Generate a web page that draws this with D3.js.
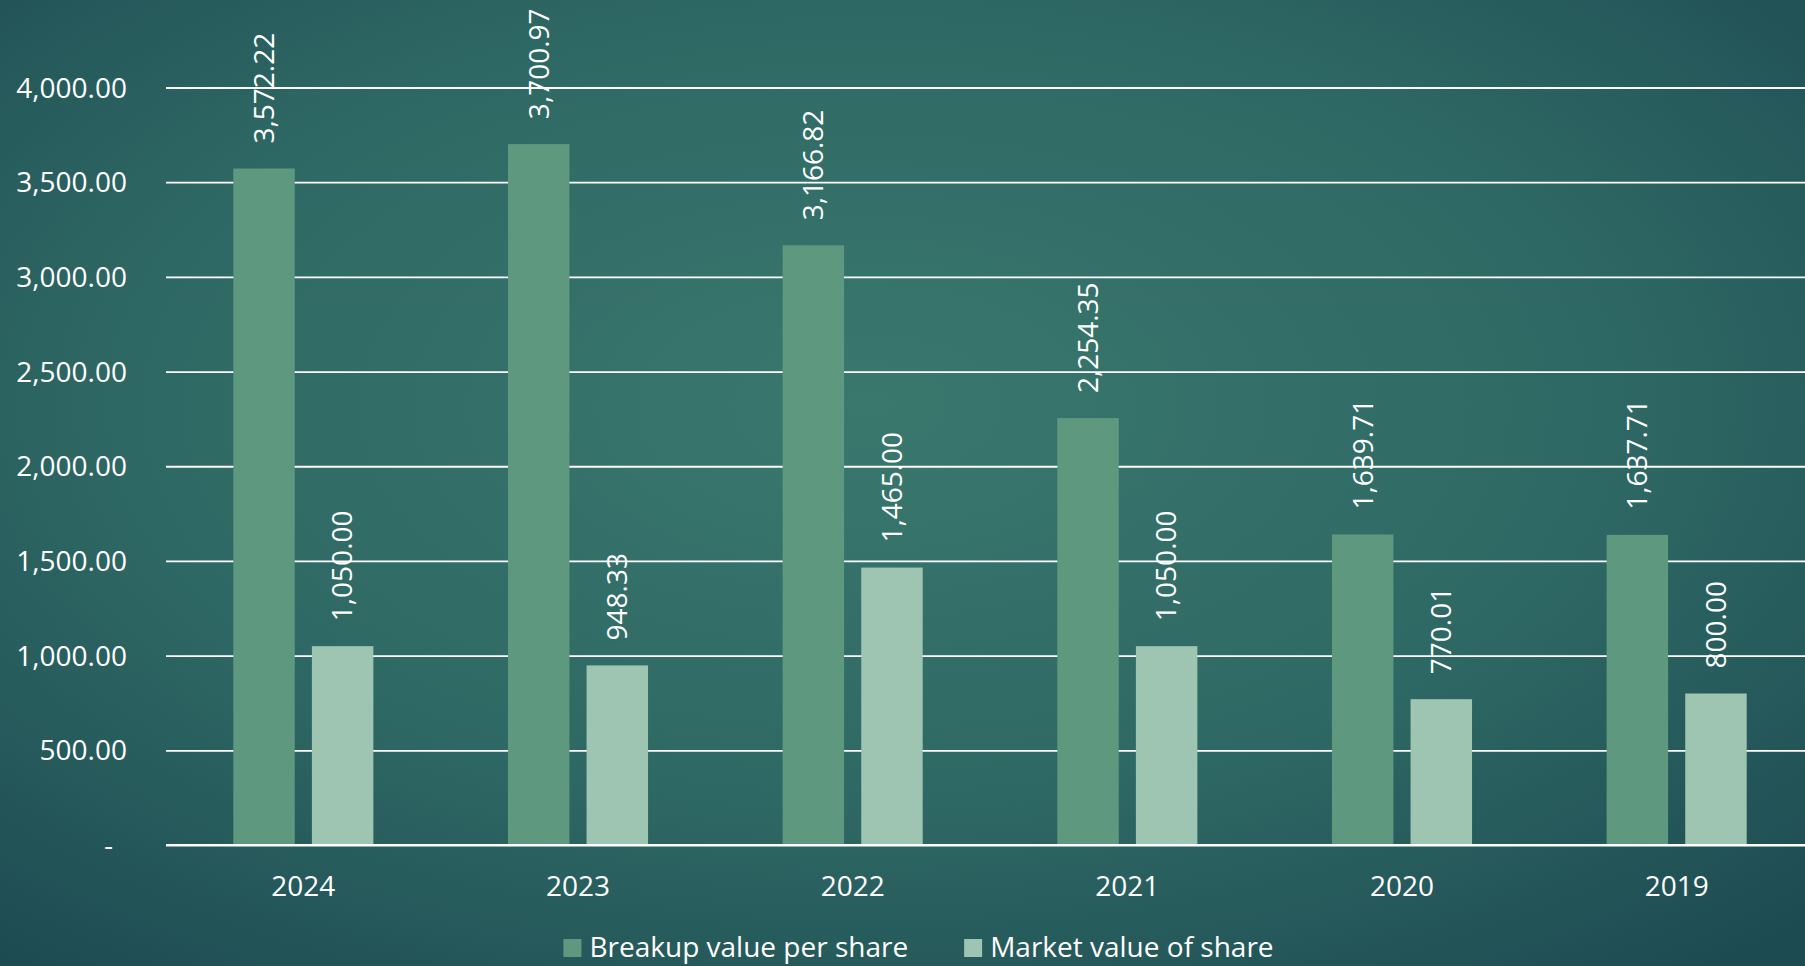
<!DOCTYPE html>
<html>
<head>
<meta charset="utf-8">
<script src="https://cdn.jsdelivr.net/npm/d3@7"></script>
<style>
    html, body { margin: 0; padding: 0; background: #2a6262; }
    svg { display: block; }
    text { font-family: "Open Sans", "Noto Sans", sans-serif; fill: #ffffff; }
</style>
</head>
<body>
<svg id="chart"></svg>
<script>
// chart data
const years = ['2024', '2023', '2022', '2021', '2020', '2019'];
const seriesNames = ['Breakup value per share', 'Market value of share'];
const breakupValues = [3572.22, 3700.97, 3166.82, 2254.35, 1639.71, 1637.71];
const marketValues = [1050.00, 948.33, 1465.00, 1050.00, 770.01, 800.00];
const yTicks = [0, 500, 1000, 1500, 2000, 2500, 3000, 3500, 4000];

const width = 1805;
const height = 966;
const colors = ['#5e997f', '#9ec4b2'];

const svg = d3.select('#chart')
    .attr('width', width)
    .attr('height', height)
    .attr('viewBox', `0 0 ${width} ${height}`);

// background: soft radial teal glow, darker toward the corners
const defs = svg.append('defs');
const grad = defs.append('radialGradient')
    .attr('id', 'bg')
    .attr('cx', '48%').attr('cy', '42%').attr('r', '75%');
grad.append('stop').attr('offset', '0%').attr('stop-color', '#3a786e');
grad.append('stop').attr('offset', '55%').attr('stop-color', '#2e6864');
grad.append('stop').attr('offset', '100%').attr('stop-color', '#1d4b52');
svg.append('rect')
    .attr('width', width).attr('height', height)
    .attr('fill', 'url(#bg)');

const plot = { left: 166, right: 1814, top: 87.5, bottom: 845 };

const x0 = d3.scaleBand()
    .domain(years)
    .range([plot.left, plot.right])
    .paddingInner(0.49)
    .paddingOuter(0.245);

const x1 = d3.scaleBand()
    .domain(seriesNames)
    .range([0, x0.bandwidth()])
    .paddingInner(0.218)
    .paddingOuter(0);

const y = d3.scaleLinear()
    .domain([0, 4000])
    .range([plot.bottom, plot.top]);

const color = d3.scaleOrdinal().domain(seriesNames).range(colors);

const valueFormat = d3.format(',.2f');

// gridlines + y labels
const yAxis = d3.axisLeft(y)
    .tickValues(yTicks)
    .tickSize(-(plot.right - plot.left))
    .tickPadding(39)
    .tickFormat(v => v === 0 ? '-' : valueFormat(v));

const yAxisGroup = svg.append('g')
    .attr('class', 'y-axis')
    .attr('transform', `translate(${plot.left},0)`)
    .call(yAxis);

yAxisGroup.select('.domain').remove();
yAxisGroup.selectAll('.tick line')
    .attr('stroke', '#ffffff')
    .attr('stroke-width', 1.8);
yAxisGroup.selectAll('.tick text')
    .attr('fill', '#ffffff')
    .style('font-size', '28px')
    .attr('dy', '0.34em')
    // accounting style zero: dash is padded from the right edge
    .attr('dx', v => v === 0 ? -14 : 0);

// x labels
const xAxis = d3.axisBottom(x0).tickSize(0).tickPadding(0);
const xAxisGroup = svg.append('g')
    .attr('class', 'x-axis')
    .attr('transform', `translate(0,${plot.bottom})`)
    .call(xAxis);
xAxisGroup.select('.domain').remove();
xAxisGroup.selectAll('.tick text')
    .attr('fill', '#ffffff')
    .attr('y', 51)
    .attr('dy', 0)
    .style('font-size', '28px');

// bars
const rows = years.map((year, i) => ({
    year,
    values: [
        { series: seriesNames[0], value: breakupValues[i] },
        { series: seriesNames[1], value: marketValues[i] }
    ]
}));

const groups = svg.append('g')
    .attr('class', 'bars')
    .selectAll('g')
    .data(rows)
    .join('g')
    .attr('transform', d => `translate(${x0(d.year)},0)`);

groups.selectAll('rect')
    .data(d => d.values)
    .join('rect')
    .attr('x', d => x1(d.series))
    .attr('y', d => y(d.value))
    .attr('width', x1.bandwidth())
    .attr('height', d => y(0) - y(d.value))
    .attr('fill', d => color(d.series));

// rotated value labels above each bar
groups.selectAll('text.value-label')
    .data(d => d.values)
    .join('text')
    .attr('class', 'value-label')
    .attr('transform', d => {
        const cx = x1(d.series) + x1.bandwidth() / 2;
        return `translate(${cx},${y(d.value) - 25}) rotate(-90)`;
    })
    .attr('text-anchor', 'start')
    .attr('dy', '0.35em')
    .style('font-size', '28px')
    .text(d => valueFormat(d.value));

// baseline redrawn on top of the bars
svg.append('line')
    .attr('x1', plot.left).attr('x2', plot.right)
    .attr('y1', y(0)).attr('y2', y(0))
    .attr('stroke', '#ffffff')
    .attr('stroke-width', 1.8);

// legend, centred below the plot
const legend = svg.append('g').attr('class', 'legend');
const items = legend.selectAll('g')
    .data(seriesNames)
    .join('g');

items.append('rect')
    .attr('width', 18).attr('height', 18)
    .attr('y', 939)
    .attr('fill', d => color(d));

items.append('text')
    .attr('x', 26)
    .attr('y', 957)
    .style('font-size', '28px')
    .text(d => d);

let offset = 0;
const itemGap = 56;
items.each(function () {
    const w = this.getBBox().width;
    d3.select(this).attr('data-w', w);
});
const totalWidth = d3.sum(items.nodes(), n => +n.getAttribute('data-w')) + itemGap;
const legendStart = 918.5 - totalWidth / 2;
items.attr('transform', function () {
    const t = `translate(${legendStart + offset},0)`;
    offset += +this.getAttribute('data-w') + itemGap;
    return t;
});
</script>
</body>
</html>
